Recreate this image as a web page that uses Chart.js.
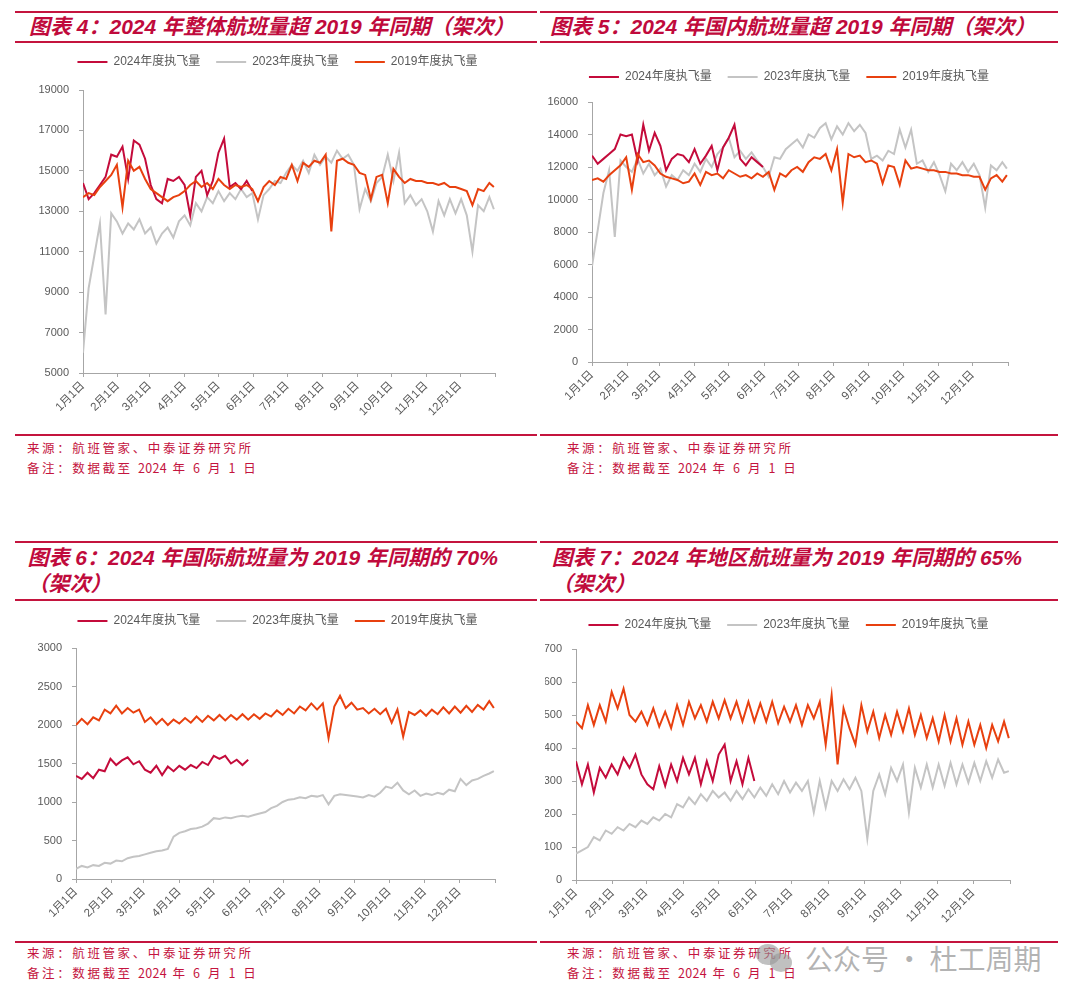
<!DOCTYPE html>
<html>
<head>
<meta charset="utf-8">
<title>航班量对比</title>
<script src="https://cdn.jsdelivr.net/npm/chart.js"></script>
<style>
  body { margin: 0; width: 1080px; height: 1002px; background: #fff; overflow: hidden; position: relative; font-family: Arial, "Noto Sans CJK SC", sans-serif; }
  .rule { position: absolute; height: 2px; background: #c4143e; }
  .title { position: absolute; color: #c00a3c; font-size: 21px; line-height: 26px; font-weight: bold; font-style: italic; white-space: nowrap; font-family: Arial, "Noto Sans CJK SC", sans-serif; }
  .note { position: absolute; color: #c4143e; font-size: 12.5px; line-height: 20px; letter-spacing: 2.6px; white-space: nowrap; font-family: "Noto Sans CJK SC", sans-serif; }
  .note span { letter-spacing: 0.3px; }
  canvas { position: absolute; }
  .wm { position: absolute; left: 805px; top: 941px; font-size: 28px; line-height: 34px; color: rgba(150,150,150,0.72); font-family: "Noto Sans CJK SC", sans-serif; white-space: nowrap; }
  .bub { position: absolute; border-radius: 50%; background: rgba(150,150,150,0.6); }
</style>
</head>
<body>
  <!-- 图表4 -->
  <div class="rule" style="left:15px;top:10.7px;width:522px"></div>
  <div class="title" style="left:29px;top:13.7px">图表 4：2024 年整体航班量超 2019 年同期（架次）</div>
  <div class="rule" style="left:15px;top:40.7px;width:522px"></div>
  <canvas id="c4" width="515" height="388" style="left:20px;top:40px"></canvas>
  <div class="rule" style="left:15px;top:434px;width:522px"></div>
  <div class="note" style="left:27px;top:437.7px">来源：航班管家、中泰证券研究所<br>备注：数据截至 <span>2024</span> 年 6 月 1 日</div>

  <!-- 图表5 -->
  <div class="rule" style="left:540px;top:10.7px;width:518px"></div>
  <div class="title" style="left:550px;top:13.7px">图表 5：2024 年国内航班量超 2019 年同期（架次）</div>
  <div class="rule" style="left:540px;top:40.7px;width:518px"></div>
  <canvas id="c5" width="488" height="362" style="left:545px;top:55px"></canvas>
  <div class="rule" style="left:540px;top:434px;width:518px"></div>
  <div class="note" style="left:567px;top:437.7px">来源：航班管家、中泰证券研究所<br>备注：数据截至 <span>2024</span> 年 6 月 1 日</div>

  <!-- 图表6 -->
  <div class="rule" style="left:15px;top:541.3px;width:522px"></div>
  <div class="title" style="left:27.5px;top:545.3px">图表 6：2024 年国际航班量为 2019 年同期的 70%<br>（架次）</div>
  <div class="rule" style="left:15px;top:599px;width:522px"></div>
  <canvas id="c6" width="515" height="335" style="left:20px;top:599px"></canvas>
  <div class="rule" style="left:15px;top:940.7px;width:522px"></div>
  <div class="note" style="left:27px;top:943.3px;line-height:19.5px">来源：航班管家、中泰证券研究所<br>备注：数据截至 <span>2024</span> 年 6 月 1 日</div>

  <!-- 图表7 -->
  <div class="rule" style="left:540px;top:541.3px;width:518px"></div>
  <div class="title" style="left:551.7px;top:545.3px">图表 7：2024 年地区航班量为 2019 年同期的 65%<br>（架次）</div>
  <div class="rule" style="left:540px;top:599px;width:518px"></div>
  <canvas id="c7" width="487" height="332" style="left:545px;top:603px"></canvas>
  <div class="rule" style="left:540px;top:940.7px;width:518px"></div>
  <div class="note" style="left:567px;top:943.3px;line-height:19.5px">来源：航班管家、中泰证券研究所<br>备注：数据截至 <span>2024</span> 年 6 月 1 日</div>

  <!-- 水印 -->
  <div class="bub" style="left:756px;top:944px;width:24px;height:21px"></div>
  <div class="bub" style="left:770px;top:953px;width:22px;height:19px"></div>
  <div class="wm">公众号 · 杜工周期</div>

<script>
// 横轴：一年中的第几天（每5天取一个点），月初刻度
const days = [0,5,10,15,20,25,30,35,40,45,50,55,60,65,70,75,80,85,90,95,
  100,105,110,115,120,125,130,135,140,145,150,155,160,165,170,175,180,185,190,195,
  200,205,210,215,220,225,230,235,240,245,250,255,260,265,270,275,280,285,290,295,
  300,305,310,315,320,325,330,335,340,345,350,355,360,364];
const monthTicks = [0,31,59,90,120,151,181,212,243,273,304,334,365];
const monthLabels = ['1月1日','2月1日','3月1日','4月1日','5月1日','6月1日','7月1日','8月1日','9月1日','10月1日','11月1日','12月1日',''];
const seriesNames = ['2024年度执飞量','2023年度执飞量','2019年度执飞量'];

// 图表4 整体
const total2024 = [14400,13600,13900,14300,14700,15800,15700,16200,14600,16500,
  16300,15600,14300,13600,13400,14600,14500,14700,14300,12800,
  14700,15000,13800,14500,15900,16600,14200,14400,14100,14500,14000];
const total2023 = [6000,9200,10800,12400,7900,12900,12500,11900,12400,12100,
  12600,11900,12200,11400,11900,12200,11700,12500,12800,12300,
  13400,13000,13700,13400,14000,13500,13900,13600,14100,13700,
  13900,12600,13800,14100,14500,14400,14900,15300,15000,15500,
  14900,15800,15300,15700,15400,16000,15600,15800,15300,13100,
  14100,13500,14400,14700,15800,14500,15900,13400,13800,13300,
  13600,13000,12000,13500,12800,13600,12900,13600,12800,11000,
  13300,13000,13700,13100];
const total2019 = [13700,13900,13800,14200,14500,14800,15300,13200,15500,15000,
  15200,14600,14100,13900,13700,13500,13700,13800,14000,14300,
  14500,14200,14400,14100,14600,14300,14100,14300,14200,14300,
  14100,13500,14200,14500,14300,14700,14600,15300,14500,15400,
  15200,15500,15400,15800,12000,15500,15600,15400,15300,14900,
  14800,13600,14700,14800,13400,15100,14700,14400,14600,14500,
  14500,14400,14400,14300,14400,14200,14200,14100,14000,13300,
  14100,14000,14400,14200];

// 图表5 国内
const dom2024 = [12700,12200,12500,12800,13100,14000,13900,14000,12400,14600,
  13000,14100,13300,11800,12500,12800,12700,12300,13100,12200,
  12700,13300,11800,13200,13800,14600,12500,12100,12600,12300,12000];
const dom2023 = [5900,8100,10400,11800,7700,12400,12000,11700,12500,11600,
  12200,11500,11900,10800,11500,11200,11800,11500,12200,11700,
  12500,12000,12800,13200,13800,12600,13000,12500,12900,12400,
  12000,11400,12600,12500,13100,13400,13700,13200,14000,13800,
  14400,14700,13700,14500,14000,14700,14200,14600,14100,12500,
  12700,12400,13000,12800,14300,13200,14300,12200,12400,11700,
  12300,11500,10500,12200,11800,12300,11700,12200,11500,9500,
  12100,11800,12300,11900];
const dom2019 = [11200,11300,11100,11500,11800,12100,12600,10600,12800,12300,
  12400,12100,11600,11400,11300,11200,11000,11100,11600,10900,
  11700,11500,11600,11300,11800,11600,11400,11500,11300,11600,
  11400,11700,10600,11600,11400,11800,12000,11700,12300,12600,
  12500,12800,11800,13100,9800,12800,12600,12700,12300,12400,
  12200,11000,12100,12000,10900,12400,11900,12000,11900,11800,
  11800,11700,11700,11600,11600,11500,11500,11400,11400,10600,
  11300,11500,11100,11500];

// 图表6 国际
const intl2024 = [1340,1300,1380,1310,1420,1400,1560,1480,1540,1580,
  1490,1530,1420,1380,1470,1350,1460,1400,1470,1420,
  1480,1440,1520,1480,1600,1560,1600,1500,1550,1480,1550];
const intl2023 = [130,170,150,180,170,210,200,240,230,270,
  290,300,320,340,360,370,390,550,600,620,
  650,660,680,720,790,780,800,790,810,820,
  810,830,850,870,920,950,1000,1030,1040,1060,
  1050,1080,1070,1090,970,1080,1100,1090,1080,1070,
  1060,1090,1070,1120,1200,1180,1250,1150,1100,1150,
  1080,1110,1090,1120,1100,1160,1140,1300,1220,1280,
  1300,1340,1370,1400];
const intl2019 = [2000,2080,2010,2100,2060,2200,2150,2250,2150,2220,
  2160,2200,2040,2100,2010,2080,2000,2070,2020,2090,
  2030,2110,2040,2120,2060,2130,2060,2130,2070,2140,
  2070,2140,2080,2150,2110,2190,2130,2210,2150,2240,
  2190,2280,2200,2280,1830,2240,2380,2220,2290,2200,
  2220,2150,2210,2140,2210,2030,2200,1850,2170,2130,
  2190,2120,2200,2140,2230,2150,2240,2160,2250,2170,
  2260,2200,2310,2220];

// 图表7 地区
const reg2024 = [360,290,350,265,340,310,350,320,370,340,
  380,320,290,275,345,285,350,300,370,320,
  370,290,360,300,380,410,300,360,290,370,300];
const reg2023 = [80,90,100,130,120,150,140,160,150,170,
  160,180,170,190,180,200,190,230,220,250,
  230,260,240,270,250,265,240,270,245,275,
  250,280,255,290,260,300,265,295,270,300,
  205,300,220,300,270,305,275,310,270,125,
  270,320,260,340,300,350,205,340,280,350,
  280,350,285,355,290,350,295,355,300,360,
  310,365,325,330];
const reg2019 = [480,460,530,470,530,480,570,520,580,500,
  480,510,470,520,465,510,460,530,470,540,
  490,530,480,540,490,545,490,540,480,540,
  480,535,480,540,475,525,480,530,470,530,
  490,540,410,560,350,520,460,410,530,450,
  510,430,500,440,510,450,520,440,500,430,
  490,420,500,420,490,410,480,410,470,400,
  470,420,480,430];

const colors = ['#c40b3b', '#c4c4c4', '#e8400f'];
const axisColor = '#a6a6a6';
const textColor = '#595959';
const fontFamily = 'Arial, "Noto Sans CJK SC", sans-serif';

function pts(vals) {
  return vals.map((v, i) => ({ x: days[i], y: v }));
}

function makeChart(id, s24, s23, s19, yMin, yMax, yStep, box) {
  // legend sits a bit higher above the plot, and a bit to the right, of where Chart.js puts it
  const legendPlace = {
    id: 'legendPlace',
    beforeInit(chart) {
      if (!chart.legend) return;
      const fit = chart.legend.fit;
      chart.legend.fit = function () { fit.call(this); this.height += box.extra; };
    },
    afterLayout(chart) {
      if (!chart.legend) return;
      chart.legend.left += box.dx;
      chart.legend.right += box.dx;
    }
  };
  const data = [s24, s23, s19];
  const drawOrder = [2, 3, 1];
  new Chart(document.getElementById(id), {
    type: 'line',
    data: {
      datasets: data.map((s, i) => ({
        label: seriesNames[i],
        data: pts(s),
        borderColor: colors[i],
        backgroundColor: colors[i],
        borderWidth: 2,
        pointRadius: 0,
        tension: 0,
        order: drawOrder[i]
      }))
    },
    options: {
      responsive: false,
      animation: false,
      devicePixelRatio: 1,
      layout: { padding: { left: 0, right: box.padRight, top: 0, bottom: 0 } },
      plugins: {
        tooltip: { enabled: false },
        legend: {
          position: 'top',
          labels: {
            usePointStyle: true,
            pointStyle: 'line',
            pointStyleWidth: 30,
            padding: 16,
            color: textColor,
            font: { size: 12, family: fontFamily },
            sort: (a, b) => a.datasetIndex - b.datasetIndex
          }
        }
      },
      scales: {
        x: {
          type: 'linear',
          min: 0,
          max: 365,
          afterBuildTicks: sc => { sc.ticks = monthTicks.map(v => ({ value: v })); },
          afterFit: sc => { sc.height = 55; },
          grid: { drawOnChartArea: false, drawTicks: true, tickLength: 4, color: axisColor },
          border: { color: axisColor, width: 1 },
          ticks: {
            autoSkip: false,
            minRotation: 45,
            maxRotation: 45,
            padding: 2,
            color: textColor,
            font: { size: 11.5, family: fontFamily },
            callback: (v, i) => monthLabels[i]
          }
        },
        y: {
          min: yMin,
          max: yMax,
          afterFit: sc => { sc.width = box.yWidth; },
          grid: { drawOnChartArea: false, drawTicks: true, tickLength: 4, color: axisColor },
          border: { color: axisColor, width: 1 },
          ticks: {
            stepSize: yStep,
            padding: 10,
            color: textColor,
            font: { size: 11, family: fontFamily },
            callback: v => String(v)
          }
        }
      }
    },
    plugins: [legendPlace]
  });
}

makeChart('c4', total2024, total2023, total2019, 5000, 19000, 2000, { yWidth: 63, padRight: 40, extra: 12, dx: 20 });
makeChart('c5', dom2024, dom2023, dom2019, 0, 16000, 2000, { yWidth: 47, padRight: 25, extra: 9, dx: 12.5 });
makeChart('c6', intl2024, intl2023, intl2019, 0, 3000, 500, { yWidth: 56, padRight: 40, extra: 11, dx: 20 });
makeChart('c7', reg2024, reg2023, reg2019, 0, 700, 100, { yWidth: 31, padRight: 22, extra: 8, dx: 11 });
</script>
</body>
</html>
